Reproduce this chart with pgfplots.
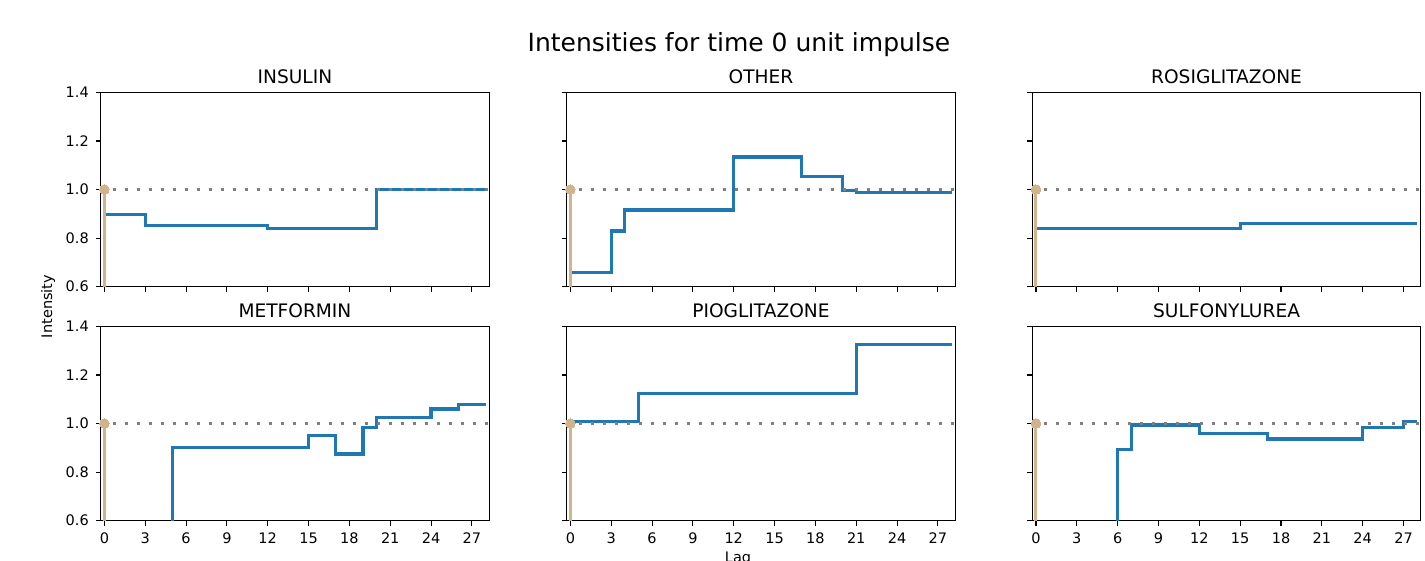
\documentclass[border=0pt]{standalone}
\usepackage{pgfplots}
\usepackage{pgfplotstable}
\pgfplotsset{compat=1.18}
\usepackage{fontspec}
\setmainfont{DejaVu Sans}
\definecolor{mplblue}{HTML}{1F77B4}
\definecolor{tanc}{HTML}{D2B48C}
\definecolor{dotgray}{HTML}{808080}

\pgfplotstableread{
x y
0 0.898
3 0.851
12 0.840
20 1.000
28 1.000
}\insulin
\pgfplotstableread{
x y
0 0.659
3 0.829
4 0.916
12 1.134
17 1.053
20 0.995
21 0.988
28 0.988
}\other
\pgfplotstableread{
x y
0 0.840
15 0.861
28 0.861
}\rosi
\pgfplotstableread{
x y
0 0.300
5 0.901
15 0.952
17 0.875
19 0.984
20 1.025
24 1.060
26 1.077
28 1.077
}\metformin
\pgfplotstableread{
x y
0 1.007
5 1.123
21 1.327
28 1.327
}\pio
\pgfplotstableread{
x y
0 0.300
6 0.893
7 0.994
12 0.960
17 0.936
24 0.985
27 1.010
28 1.010
}\sulfo

\pgfplotsset{
 panel/.style={
  scale only axis, width=194.25pt, height=97.15pt, anchor=south west,
  xmin=-0.27, xmax=28.27, ymin=0.6, ymax=1.4,
  xtick={0,3,6,9,12,15,18,21,24,27}, ytick={0.6,0.8,1.0,1.2,1.4},
  tick align=outside, tick pos=left, major tick length=2.43pt,
  every tick/.style={black, line width=0.55pt},
  axis line style={line width=0.55pt, black},
  /pgf/number format/assume math mode=true,
  tick label style={font=\fontsize{7.25}{8.7}\selectfont, text=black},
  yticklabel style={/pgf/number format/fixed, /pgf/number format/fixed zerofill, /pgf/number format/precision=1},
  title style={font=\fontsize{9.3}{11}\selectfont, at={(0.5,1)}, anchor=base, yshift=-1.4pt, inner sep=0pt},
  clip=true,
 },
 notx/.style={xticklabels={}},
 noty/.style={yticklabels={}},
 blueline/.style={const plot, mplblue, line width=1.6pt},
 oneline/.style={dotgray, line width=1.3pt, dash pattern=on 1.5pt off 4.5pt},
 stem/.style={tanc, line width=1.5pt, ycomb, mark=*, mark size=2.4pt, mark options={fill=tanc, draw=tanc, line width=0pt}},
}

\begin{document}
\begin{tikzpicture}
\path[use as bounding box] (0,0) rectangle (712.5pt,280.5pt);

% Row 1
\begin{axis}[panel, notx, at={(50.35pt,137.15pt)}, title={INSULIN}]
\addplot[blueline] table[x=x,y=y] {\insulin};
\addplot[oneline] coordinates {(-0.27,1) (28.27,1)};
\addplot[stem] coordinates {(0,1)};
\end{axis}
\begin{axis}[panel, notx, noty, at={(283.35pt,137.15pt)}, title={OTHER}]
\addplot[blueline] table[x=x,y=y] {\other};
\addplot[oneline] coordinates {(-0.27,1) (28.27,1)};
\addplot[stem] coordinates {(0,1)};
\end{axis}
\begin{axis}[panel, notx, noty, at={(516.15pt,137.15pt)}, title={ROSIGLITAZONE}]
\addplot[blueline] table[x=x,y=y] {\rosi};
\addplot[oneline] coordinates {(-0.27,1) (28.27,1)};
\addplot[stem] coordinates {(0,1)};
\end{axis}

% Row 2
\begin{axis}[panel, at={(50.35pt,20.15pt)}, title={METFORMIN}]
\addplot[blueline] table[x=x,y=y] {\metformin};
\addplot[oneline] coordinates {(-0.27,1) (28.27,1)};
\addplot[stem] coordinates {(0,1)};
\end{axis}
\begin{axis}[panel, noty, at={(283.35pt,20.15pt)}, title={PIOGLITAZONE}]
\addplot[blueline] table[x=x,y=y] {\pio};
\addplot[oneline] coordinates {(-0.27,1) (28.27,1)};
\addplot[stem] coordinates {(0,1)};
\end{axis}
\begin{axis}[panel, noty, at={(516.15pt,20.15pt)}, title={SULFONYLUREA}]
\addplot[blueline] table[x=x,y=y] {\sulfo};
\addplot[oneline] coordinates {(-0.27,1) (28.27,1)};
\addplot[stem] coordinates {(0,1)};
\end{axis}

\node[anchor=base, inner sep=0pt, font=\fontsize{12.5}{14}\selectfont] at (369.5pt,254.65pt) {Intensities for time 0 unit impulse};
\node[rotate=90, inner sep=0pt, font=\fontsize{7.25}{8.7}\selectfont] at (24pt,127.25pt) {Intensity};
\node[anchor=north, inner sep=0pt, font=\fontsize{7.25}{8.7}\selectfont] at (369pt,4.65pt) {Lag};
\end{tikzpicture}
\end{document}
